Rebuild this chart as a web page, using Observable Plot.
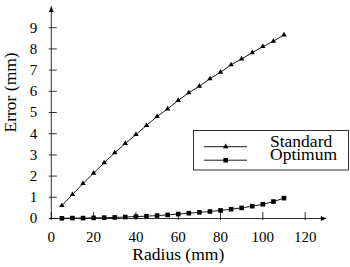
<!DOCTYPE html>
<html>
<head>
<meta charset="utf-8">
<script src="https://cdn.jsdelivr.net/npm/d3@7"></script>
<script src="https://cdn.jsdelivr.net/npm/@observablehq/plot@0.6"></script>
<style>
  body { margin: 0; background: #fff; }
  #chart svg { display: block; }
</style>
</head>
<body>
<div id="chart"></div>
<script>
// Radius (mm) at which the error was evaluated
const radius = [5, 10, 15, 20, 25, 30, 35, 40, 45, 50, 55, 60, 65, 70, 75, 80, 85, 90, 95, 100, 105, 110];
// Error (mm) for each configuration
const standard = [0.61, 1.13, 1.65, 2.14, 2.63, 3.10, 3.54, 3.96, 4.39, 4.81, 5.17, 5.57, 5.93, 6.24, 6.59, 6.90, 7.25, 7.53, 7.82, 8.11, 8.36, 8.66];
const optimum = [0.01, 0.02, 0.02, 0.03, 0.04, 0.05, 0.07, 0.09, 0.11, 0.14, 0.17, 0.21, 0.25, 0.29, 0.33, 0.38, 0.44, 0.50, 0.58, 0.67, 0.80, 0.96];
const seriesNames = ["Standard", "Optimum"];
const xTicks = [0, 20, 40, 60, 80, 100, 120];
const yTicks = [0, 1, 2, 3, 4, 5, 6, 7, 8, 9];
const xLabel = "Radius (mm)";
const yLabel = "Error (mm)";

const standardRows = radius.map((r, i) => ({r, e: standard[i]}));
const optimumRows = radius.map((r, i) => ({r, e: optimum[i]}));

const serif = "'Liberation Serif', 'Times New Roman', serif";

// Filled arrowheads for the axis ends (tip at the anchor point)
const arrowRight = {draw(ctx) { ctx.moveTo(0, 0); ctx.lineTo(-5.5, -2.4); ctx.lineTo(-5.5, 2.4); ctx.closePath(); }};
const arrowUp = {draw(ctx) { ctx.moveTo(0, 0); ctx.lineTo(-2.4, 5.5); ctx.lineTo(2.4, 5.5); ctx.closePath(); }};

const chart = Plot.plot({
  width: 350,
  height: 267,
  marginLeft: 50.8,
  marginRight: 24.2,
  marginTop: 6,
  marginBottom: 49,
  x: {domain: [0, 130], label: null},
  y: {domain: [0, 10], label: null},
  style: {fontFamily: serif, fontSize: "15px", color: "#000", background: "#fff", overflow: "visible"},
  marks: [
    Plot.ruleY([0], {stroke: "#000", strokeWidth: 0.8}),
    Plot.ruleX([0], {stroke: "#000", strokeWidth: 0.8}),
    Plot.dot([0], {x: () => 130, y: () => 0, symbol: arrowRight, fill: "#000", stroke: "none", r: 3}),
    Plot.dot([0], {x: () => 0, y: () => 10, symbol: arrowUp, fill: "#000", stroke: "none", r: 3}),
    Plot.axisX({ticks: xTicks, tickSize: 8, dy: -6, tickFormat: () => "", label: null, strokeWidth: 0.8}),
    Plot.axisX({ticks: xTicks, tickSize: 0, tickPadding: 13, label: null, fontSize: 15, fontFamily: serif}),
    Plot.axisY({ticks: yTicks, tickSize: 8, dx: 6, tickFormat: () => "", label: null, strokeWidth: 0.8}),
    Plot.axisY({ticks: yTicks, tickSize: 0, tickPadding: 14, label: null, fontSize: 15, fontFamily: serif}),
    Plot.line(standardRows, {x: "r", y: "e", stroke: "#000", strokeWidth: 0.9}),
    Plot.dot(standardRows, {x: "r", y: "e", symbol: "triangle", r: 2, fill: "#000", stroke: "none"}),
    Plot.line(optimumRows, {x: "r", y: "e", stroke: "#000", strokeWidth: 0.9}),
    Plot.dot(optimumRows, {x: "r", y: "e", symbol: "square", r: 2.6, fill: "#000", stroke: "none"}),
    Plot.text([yLabel], {frameAnchor: "left", rotate: -90, dx: -41, dy: 20, fontSize: 17.5, fontFamily: serif, fill: "#000"}),
    Plot.text([xLabel], {frameAnchor: "bottom", dx: -10.5, dy: 41, fontSize: 17.5, fontFamily: serif, fill: "#000"})
  ]
});

document.getElementById("chart").appendChild(chart);

// Legend box inside the plot area
const svg = d3.select(chart);
const legend = svg.append("g")
  .attr("font-family", serif).attr("font-size", 17.5).attr("fill", "#000").attr("text-anchor", "start");
legend.append("rect")
  .attr("x", 193.5).attr("y", 130.5).attr("width", 155).attr("height", 39.5)
  .attr("fill", "#fff").attr("stroke", "#000").attr("stroke-width", 0.8);
const symbols = [d3.symbol(d3.symbolTriangle, 2 * 2 * Math.PI), d3.symbol(d3.symbolSquare, 2.6 * 2.6 * Math.PI)];
seriesNames.forEach((name, i) => {
  const y = 146.7 + i * 13.5;
  legend.append("line").attr("x1", 204).attr("x2", 247).attr("y1", y).attr("y2", y)
    .attr("stroke", "#000").attr("stroke-width", 0.9);
  legend.append("path").attr("d", symbols[i]()).attr("transform", `translate(225.7,${y})`);
  legend.append("text").attr("x", 270).attr("y", y).text(name);
});
</script>
</body>
</html>
